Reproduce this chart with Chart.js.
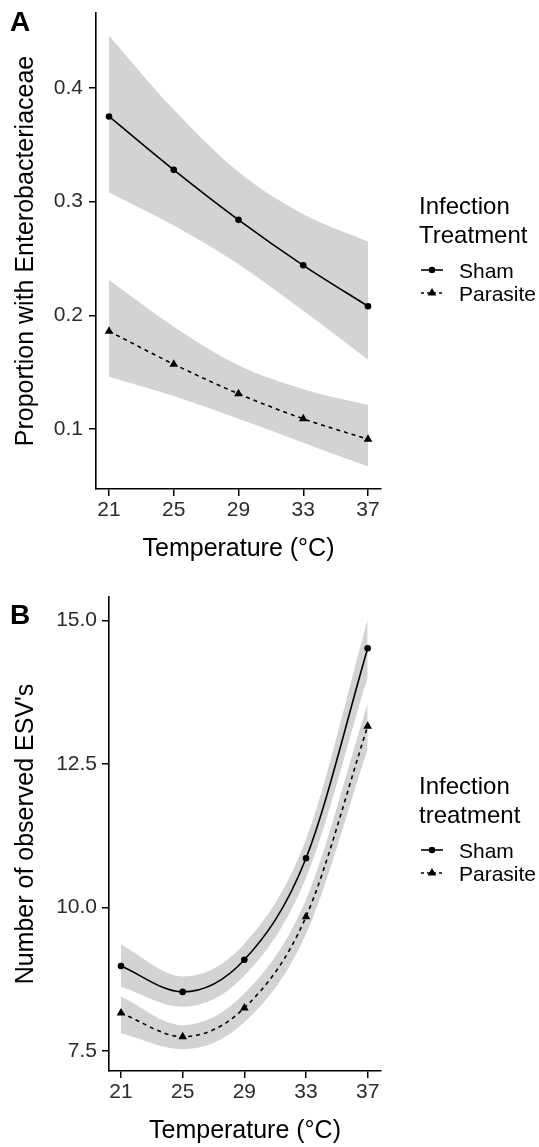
<!DOCTYPE html>
<html>
<head>
<meta charset="utf-8">
<script src="https://cdn.jsdelivr.net/npm/chart.js@4.4.1/dist/chart.umd.min.js"></script>
<style>
	body { margin: 0; background: #fff; }
	canvas { display: block; }
</style>
</head>
<body>
<canvas id="chartA" width="539" height="580"></canvas>
<canvas id="chartB" width="539" height="567"></canvas>
<script>
// temperatures (°C) shared by both panels
const temps = [21, 25, 29, 33, 37];
const xTicks = [21, 25, 29, 33, 37];

// panel A: proportion with Enterobacteriaceae
const shamA = [0.375, 0.328, 0.284, 0.244, 0.208];
const shamAHi = [0.446, 0.381, 0.326, 0.289, 0.265];
const shamALo = [0.308, 0.279, 0.245, 0.204, 0.161];
const parasiteA = [0.186, 0.157, 0.131, 0.109, 0.091];
const parasiteAHi = [0.231, 0.190, 0.156, 0.135, 0.121];
const parasiteALo = [0.146, 0.129, 0.109, 0.088, 0.067];
const yTicksA = [0.1, 0.2, 0.3, 0.4];

// panel B: number of observed ESV's
const shamB = [8.98, 8.53, 9.09, 10.86, 14.52];
const shamBHi = [9.35, 8.80, 9.37, 11.19, 15.02];
const shamBLo = [8.62, 8.27, 8.81, 10.52, 14.02];
const parasiteB = [8.16, 7.75, 8.25, 9.84, 13.16];
const parasiteBHi = [8.45, 7.95, 8.50, 10.14, 13.56];
const parasiteBLo = [7.81, 7.53, 8.00, 9.54, 12.76];
const yTicksB = [7.5, 10.0, 12.5, 15.0];

const BAND = "#d2d3d5";
Chart.defaults.font.family = '"Liberation Sans", Arial, Helvetica, sans-serif';

const pts = (vals) => temps.map((t, i) => ({ x: t, y: vals[i] }));

const buildDatasets = (sham, shamHi, shamLo, par, parHi, parLo) => [
	{
		label: "Sham",
		data: pts(sham),
		borderColor: "#000",
		borderWidth: 1.6,
		pointStyle: "circle",
		pointRadius: 3.3,
		pointBackgroundColor: "#000",
		pointBorderWidth: 0,
		cubicInterpolationMode: "monotone",
		fill: false,
		order: 0,
	},
	{
		label: "Parasite",
		data: pts(par),
		borderColor: "#000",
		borderWidth: 1.6,
		borderDash: [4, 4],
		pointStyle: "triangle",
		pointRadius: 5,
		pointBackgroundColor: "#000",
		pointBorderWidth: 0,
		cubicInterpolationMode: "monotone",
		fill: false,
		order: 0,
	},
	{ data: pts(shamHi), fill: 3, backgroundColor: BAND, borderColor: "rgba(0,0,0,0)", pointRadius: 0, cubicInterpolationMode: "monotone", order: 5 },
	{ data: pts(shamLo), fill: false, borderColor: "rgba(0,0,0,0)", pointRadius: 0, cubicInterpolationMode: "monotone", order: 5 },
	{ data: pts(parHi), fill: 5, backgroundColor: BAND, borderColor: "rgba(0,0,0,0)", pointRadius: 0, cubicInterpolationMode: "monotone", order: 5 },
	{ data: pts(parLo), fill: false, borderColor: "rgba(0,0,0,0)", pointRadius: 0, cubicInterpolationMode: "monotone", order: 5 },
];

const axisGrid = {
	display: true,
	drawOnChartArea: false,
	drawTicks: true,
	tickLength: 7,
	color: "#000",
	lineWidth: 1.5,
};

const buildScales = (o) => ({
	x: {
		type: "linear",
		min: o.xMin,
		max: o.xMax,
		afterBuildTicks: (s) => { s.ticks = xTicks.map((v) => ({ value: v })); },
		afterFit: (s) => { s.height = o.xHeight; s.paddingLeft = 0; s.paddingRight = 0; },
		ticks: { autoSkip: false, maxRotation: 0, padding: 2, color: "#2b2b2b", font: { size: 21 }, callback: (v) => v },
		grid: axisGrid,
		border: { color: "#000", width: 1.6 },
		title: { display: true, text: "Temperature (°C)", color: "#000", font: { size: 25 }, padding: { top: 0, bottom: o.xTitlePad } },
	},
	y: {
		type: "linear",
		min: o.yMin,
		max: o.yMax,
		afterBuildTicks: (s) => { s.ticks = o.yTicks.map((v) => ({ value: v })); },
		afterFit: (s) => { s.width = o.yWidth; s.paddingTop = 0; s.paddingBottom = 0; },
		ticks: { autoSkip: false, padding: o.yTickPad, color: "#2b2b2b", font: { size: 21 }, callback: (v) => v.toFixed(1) },
		grid: axisGrid,
		border: { color: "#000", width: 1.6 },
		title: { display: true, text: o.yTitle, color: "#000", font: { size: 25 }, padding: { top: 11, bottom: 0 } },
	},
});

// legend at the right side + panel letter
const sidePlugin = (letter, letterY, titleLines) => ({
	id: "side" + letter,
	afterDraw(chart) {
		const ctx = chart.ctx;
		ctx.save();
		ctx.fillStyle = "#000";
		ctx.textBaseline = "alphabetic";
		ctx.textAlign = "left";
		ctx.font = 'bold 28px "Liberation Sans", Arial, sans-serif';
		ctx.fillText(letter, 10, letterY);

		ctx.font = '24px "Liberation Sans", Arial, sans-serif';
		ctx.fillText(titleLines[0], 419, 214);
		ctx.fillText(titleLines[1], 419, 243);

		// Sham key
		ctx.strokeStyle = "#000";
		ctx.lineWidth = 1.6;
		ctx.beginPath();
		ctx.moveTo(421, 270);
		ctx.lineTo(443, 270);
		ctx.stroke();
		ctx.beginPath();
		ctx.arc(432, 270, 3.3, 0, Math.PI * 2);
		ctx.fill();

		// Parasite key
		ctx.setLineDash([3, 3]);
		ctx.beginPath();
		ctx.moveTo(421, 293);
		ctx.lineTo(443, 293);
		ctx.stroke();
		ctx.setLineDash([]);
		const r = 5;
		ctx.beginPath();
		ctx.moveTo(432, 293 - r);
		ctx.lineTo(432 + r * 0.866, 293 + r * 0.5);
		ctx.lineTo(432 - r * 0.866, 293 + r * 0.5);
		ctx.closePath();
		ctx.fill();

		ctx.font = '21px "Liberation Sans", Arial, sans-serif';
		ctx.fillText("Sham", 459, 278);
		ctx.fillText("Parasite", 459, 301);
		ctx.restore();
	},
});

const configA = {
	type: "line",
	data: { datasets: buildDatasets(shamA, shamAHi, shamALo, parasiteA, parasiteAHi, parasiteALo) },
	options: {
		responsive: false,
		animation: false,
		events: [],
		layout: { padding: { left: 0, top: 13, right: 158, bottom: 0 } },
		scales: buildScales({
			xMin: 20.197, xMax: 37.803, xHeight: 91, xTitlePad: 16,
			yMin: 0.0472, yMax: 0.466, yTicks: yTicksA, yWidth: 96, yTickPad: 6,
			yTitle: "Proportion with Enterobacteriaceae",
		}),
		plugins: { legend: { display: false }, tooltip: { enabled: false } },
	},
	plugins: [sidePlugin("A", 31, ["Infection", "Treatment"])],
};

const configB = {
	type: "line",
	data: { datasets: buildDatasets(shamB, shamBHi, shamBLo, parasiteB, parasiteBHi, parasiteBLo) },
	options: {
		responsive: false,
		animation: false,
		events: [],
		layout: { padding: { left: 0, top: 17, right: 158, bottom: 0 } },
		scales: buildScales({
			xMin: 20.222, xMax: 37.863, xHeight: 76, xTitlePad: 1,
			yMin: 7.151, yMax: 15.413, yTicks: yTicksB, yWidth: 109, yTickPad: 5,
			yTitle: "Number of observed ESV's",
		}),
		plugins: { legend: { display: false }, tooltip: { enabled: false } },
	},
	plugins: [sidePlugin("B", 44, ["Infection", "treatment"])],
};

new Chart(document.getElementById("chartA"), configA);
new Chart(document.getElementById("chartB"), configB);
</script>
</body>
</html>
